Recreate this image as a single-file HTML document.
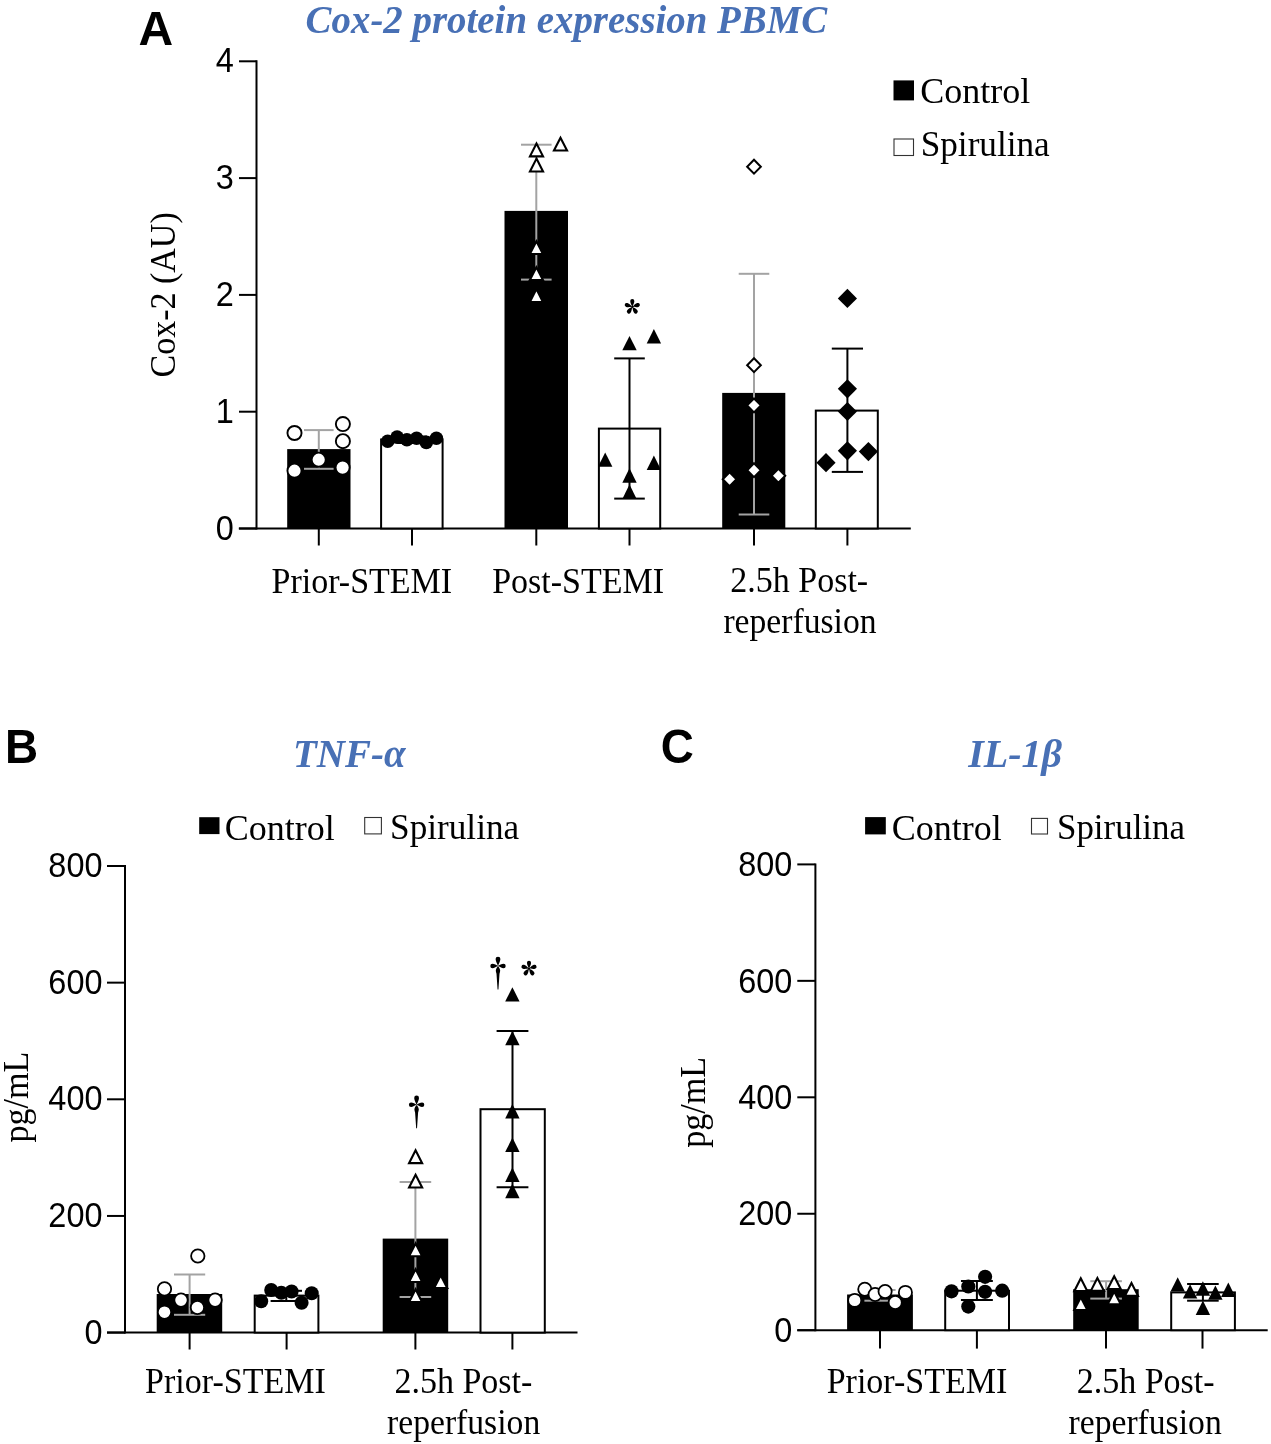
<!DOCTYPE html>
<html><head><meta charset="utf-8"><title>Figure</title>
<style>html,body{margin:0;padding:0;background:#fff;}svg{display:block;will-change:transform;}</style>
</head><body>
<svg width="1271" height="1444" viewBox="0 0 1271 1444">
<rect width="1271" height="1444" fill="#fff"/>
<text x="138.5" y="44.6" font-family='"Liberation Sans", sans-serif' font-size="48" font-weight="bold" font-style="normal" fill="#000" text-anchor="start" >A</text>
<text transform="translate(305.6,33.3) scale(0.997,1)" font-family='"Liberation Serif", serif' font-size="39" font-weight="bold" font-style="italic" fill="#4870b5" text-anchor="start" >Cox-2 protein expression PBMC</text>
<line x1="256.5" y1="60.3" x2="256.5" y2="529.5" stroke="#000" stroke-width="2"/>
<line x1="238.8" y1="528.5" x2="910.8" y2="528.5" stroke="#000" stroke-width="2"/>
<line x1="239" y1="528.5" x2="256.5" y2="528.5" stroke="#000" stroke-width="2"/>
<text transform="translate(233.8,539.5) scale(0.944,1)" font-family='"Liberation Sans", sans-serif' font-size="34.4" font-weight="normal" font-style="normal" fill="#000" text-anchor="end" >0</text>
<line x1="239" y1="411.7" x2="256.5" y2="411.7" stroke="#000" stroke-width="2"/>
<text transform="translate(233.8,422.7) scale(0.944,1)" font-family='"Liberation Sans", sans-serif' font-size="34.4" font-weight="normal" font-style="normal" fill="#000" text-anchor="end" >1</text>
<line x1="239" y1="294.9" x2="256.5" y2="294.9" stroke="#000" stroke-width="2"/>
<text transform="translate(233.8,305.9) scale(0.944,1)" font-family='"Liberation Sans", sans-serif' font-size="34.4" font-weight="normal" font-style="normal" fill="#000" text-anchor="end" >2</text>
<line x1="239" y1="178.10000000000002" x2="256.5" y2="178.10000000000002" stroke="#000" stroke-width="2"/>
<text transform="translate(233.8,189.10000000000002) scale(0.944,1)" font-family='"Liberation Sans", sans-serif' font-size="34.4" font-weight="normal" font-style="normal" fill="#000" text-anchor="end" >3</text>
<line x1="239" y1="61.30000000000001" x2="256.5" y2="61.30000000000001" stroke="#000" stroke-width="2"/>
<text transform="translate(233.8,72.30000000000001) scale(0.944,1)" font-family='"Liberation Sans", sans-serif' font-size="34.4" font-weight="normal" font-style="normal" fill="#000" text-anchor="end" >4</text>
<text transform="translate(174.8,377.5) rotate(-90) scale(0.958,1)" font-family='"Liberation Serif", serif' font-size="35.5">Cox-2 (AU)</text>
<line x1="318.8" y1="528.5" x2="318.8" y2="545.5" stroke="#000" stroke-width="2"/>
<line x1="412" y1="528.5" x2="412" y2="545.5" stroke="#000" stroke-width="2"/>
<line x1="536.3" y1="528.5" x2="536.3" y2="545.5" stroke="#000" stroke-width="2"/>
<line x1="629.5" y1="528.5" x2="629.5" y2="545.5" stroke="#000" stroke-width="2"/>
<line x1="754" y1="528.5" x2="754" y2="545.5" stroke="#000" stroke-width="2"/>
<line x1="847.4" y1="528.5" x2="847.4" y2="545.5" stroke="#000" stroke-width="2"/>
<rect x="287.2" y="449.1" width="63.30" height="79.40" fill="#000"/>
<line x1="318.8" y1="430.1" x2="318.8" y2="468.8" stroke="#a3a3a3" stroke-width="2"/>
<line x1="304.0" y1="430.1" x2="333.6" y2="430.1" stroke="#a3a3a3" stroke-width="2"/>
<line x1="304.0" y1="468.8" x2="333.6" y2="468.8" stroke="#a3a3a3" stroke-width="2"/>
<circle cx="294.5" cy="433" r="7.05" fill="#fff" stroke="#000" stroke-width="1.9"/>
<circle cx="342.9" cy="424.1" r="7.05" fill="#fff" stroke="#000" stroke-width="1.9"/>
<circle cx="342.9" cy="441.2" r="7.05" fill="#fff" stroke="#000" stroke-width="1.9"/>
<circle cx="318.7" cy="459.7" r="7.05" fill="#fff" stroke="#000" stroke-width="1.9"/>
<circle cx="294.5" cy="470.7" r="7.05" fill="#fff" stroke="#000" stroke-width="1.9"/>
<circle cx="342.6" cy="467.6" r="7.05" fill="#fff" stroke="#000" stroke-width="1.9"/>
<rect x="381.1" y="439.5" width="61.50" height="89.00" fill="#fff" stroke="#000" stroke-width="2"/>
<line x1="412" y1="436.5" x2="412" y2="443" stroke="#000" stroke-width="2"/>
<line x1="397.2" y1="436.5" x2="426.8" y2="436.5" stroke="#000" stroke-width="2"/>
<line x1="397.2" y1="443" x2="426.8" y2="443" stroke="#000" stroke-width="2"/>
<circle cx="387.7" cy="441.2" r="6.8" fill="#000"/>
<circle cx="397.1" cy="437.1" r="6.8" fill="#000"/>
<circle cx="406.9" cy="439.8" r="6.8" fill="#000"/>
<circle cx="416.6" cy="438.3" r="6.8" fill="#000"/>
<circle cx="426.3" cy="442.4" r="6.8" fill="#000"/>
<circle cx="436.4" cy="438.3" r="6.8" fill="#000"/>
<rect x="504.5" y="210.9" width="63.50" height="317.60" fill="#000"/>
<line x1="536.3" y1="144.7" x2="536.3" y2="279.6" stroke="#a3a3a3" stroke-width="2"/>
<line x1="521.0" y1="144.7" x2="551.5999999999999" y2="144.7" stroke="#a3a3a3" stroke-width="2"/>
<line x1="521.0" y1="279.6" x2="551.5999999999999" y2="279.6" stroke="#a3a3a3" stroke-width="2"/>
<polygon points="536.50,143.51 529.96,156.35 543.04,156.35" fill="#fff" stroke="#000" stroke-width="2.1" stroke-linejoin="miter" stroke-miterlimit="10"/>
<polygon points="536.50,158.61 529.96,171.45 543.04,171.45" fill="#fff" stroke="#000" stroke-width="2.1" stroke-linejoin="miter" stroke-miterlimit="10"/>
<polygon points="560.50,137.71 553.96,150.55 567.04,150.55" fill="#fff" stroke="#000" stroke-width="2.1" stroke-linejoin="miter" stroke-miterlimit="10"/>
<polygon points="536.40,241.21 529.86,254.05 542.94,254.05" fill="#fff" stroke="#000" stroke-width="2.1" stroke-linejoin="miter" stroke-miterlimit="10"/>
<polygon points="536.40,267.21 529.86,280.05 542.94,280.05" fill="#fff" stroke="#000" stroke-width="2.1" stroke-linejoin="miter" stroke-miterlimit="10"/>
<polygon points="536.40,289.11 529.86,301.95 542.94,301.95" fill="#fff" stroke="#000" stroke-width="2.1" stroke-linejoin="miter" stroke-miterlimit="10"/>
<rect x="598.9" y="428.6" width="61.30" height="99.90" fill="#fff" stroke="#000" stroke-width="2"/>
<line x1="629.5" y1="358.4" x2="629.5" y2="498.6" stroke="#000" stroke-width="2"/>
<line x1="614.2" y1="358.4" x2="644.8" y2="358.4" stroke="#000" stroke-width="2"/>
<line x1="614.2" y1="498.6" x2="644.8" y2="498.6" stroke="#000" stroke-width="2"/>
<polygon points="629.5,335.90000000000003 622.3,350.3 636.7,350.3" fill="#000"/>
<polygon points="653.9,329.0 646.6999999999999,343.4 661.1,343.4" fill="#000"/>
<polygon points="605.2,452.40000000000003 598.0,466.8 612.4000000000001,466.8" fill="#000"/>
<polygon points="653.9,455.6 646.6999999999999,470 661.1,470" fill="#000"/>
<polygon points="629.5,468.3 622.3,482.7 636.7,482.7" fill="#000"/>
<polygon points="629.5,484.5 622.3,498.9 636.7,498.9" fill="#000"/>
<g transform="translate(632.3,306.8)" fill="#000"><path d="M0,0 C-0.45,-1.4 -2.05,-3.50 -2.05,-5.80 A2.05,2.05 0 0 1 2.05,-5.80 C2.05,-3.50 0.45,-1.4 0,0Z" transform="rotate(0)"/><path d="M0,0 C-0.45,-1.4 -2.05,-3.50 -2.05,-5.80 A2.05,2.05 0 0 1 2.05,-5.80 C2.05,-3.50 0.45,-1.4 0,0Z" transform="rotate(72)"/><path d="M0,0 C-0.45,-1.4 -2.05,-3.50 -2.05,-5.80 A2.05,2.05 0 0 1 2.05,-5.80 C2.05,-3.50 0.45,-1.4 0,0Z" transform="rotate(144)"/><path d="M0,0 C-0.45,-1.4 -2.05,-3.50 -2.05,-5.80 A2.05,2.05 0 0 1 2.05,-5.80 C2.05,-3.50 0.45,-1.4 0,0Z" transform="rotate(216)"/><path d="M0,0 C-0.45,-1.4 -2.05,-3.50 -2.05,-5.80 A2.05,2.05 0 0 1 2.05,-5.80 C2.05,-3.50 0.45,-1.4 0,0Z" transform="rotate(288)"/><circle r="1.1"/></g>
<rect x="722.2" y="392.9" width="63.10" height="135.60" fill="#000"/>
<line x1="754" y1="273.8" x2="754" y2="514.5" stroke="#a3a3a3" stroke-width="2"/>
<line x1="738.7" y1="273.8" x2="769.3" y2="273.8" stroke="#a3a3a3" stroke-width="2"/>
<line x1="738.7" y1="514.5" x2="769.3" y2="514.5" stroke="#a3a3a3" stroke-width="2"/>
<polygon points="754,159.72712796023202 760.8483564676293,166.7 754,173.67287203976795 747.1516435323707,166.7" fill="#fff" stroke="#000" stroke-width="2"/>
<polygon points="754,358.227127960232 760.8483564676293,365.2 754,372.172872039768 747.1516435323707,365.2" fill="#fff" stroke="#000" stroke-width="2"/>
<polygon points="754,398.427127960232 760.8483564676293,405.4 754,412.37287203976797 747.1516435323707,405.4" fill="#fff" stroke="#000" stroke-width="2"/>
<polygon points="754,463.227127960232 760.8483564676293,470.2 754,477.172872039768 747.1516435323707,470.2" fill="#fff" stroke="#000" stroke-width="2"/>
<polygon points="729.6,472.327127960232 736.4483564676293,479.3 729.6,486.272872039768 722.7516435323707,479.3" fill="#fff" stroke="#000" stroke-width="2"/>
<polygon points="778.4,468.727127960232 785.2483564676293,475.7 778.4,482.672872039768 771.5516435323707,475.7" fill="#fff" stroke="#000" stroke-width="2"/>
<rect x="815.8" y="410.6" width="62.00" height="117.90" fill="#fff" stroke="#000" stroke-width="2"/>
<line x1="847.4" y1="348.6" x2="847.4" y2="471.9" stroke="#000" stroke-width="2"/>
<line x1="831.8" y1="348.6" x2="863.0" y2="348.6" stroke="#000" stroke-width="2"/>
<line x1="831.8" y1="471.9" x2="863.0" y2="471.9" stroke="#000" stroke-width="2"/>
<polygon points="847.4,288.79999999999995 857.0,298.4 847.4,308.0 837.8,298.4" fill="#000"/>
<polygon points="847.4,379.2 857.0,388.8 847.4,398.40000000000003 837.8,388.8" fill="#000"/>
<polygon points="847.4,401.9 857.0,411.5 847.4,421.1 837.8,411.5" fill="#000"/>
<polygon points="847.4,441.2 857.0,450.8 847.4,460.40000000000003 837.8,450.8" fill="#000"/>
<polygon points="868.4,442.0 878.0,451.6 868.4,461.20000000000005 858.8,451.6" fill="#000"/>
<polygon points="826,453.09999999999997 835.6,462.7 826,472.3 816.4,462.7" fill="#000"/>
<text transform="translate(271.5,592.9) scale(0.958,1)" font-family='"Liberation Serif", serif' font-size="35.5" font-weight="normal" font-style="normal" fill="#000" text-anchor="start" >Prior-STEMI</text>
<text transform="translate(492.2,592.9) scale(0.958,1)" font-family='"Liberation Serif", serif' font-size="35.5" font-weight="normal" font-style="normal" fill="#000" text-anchor="start" >Post-STEMI</text>
<text transform="translate(730.3,591.8) scale(0.958,1)" font-family='"Liberation Serif", serif' font-size="35.5" font-weight="normal" font-style="normal" fill="#000" text-anchor="start" >2.5h Post-</text>
<text transform="translate(723.4,633.2) scale(0.948,1)" font-family='"Liberation Serif", serif' font-size="35.5" font-weight="normal" font-style="normal" fill="#000" text-anchor="start" >reperfusion</text>
<rect x="893.5" y="80.4" width="20.5" height="20" fill="#000"/>
<text x="920.2" y="102.8" font-family='"Liberation Serif", serif' font-size="36" font-weight="normal" font-style="normal" fill="#000" text-anchor="start" >Control</text>
<rect x="894" y="139" width="19.5" height="16.5" fill="#fff" stroke="#333" stroke-width="1.1"/>
<text transform="translate(920.7,156.3) scale(0.978,1)" font-family='"Liberation Serif", serif' font-size="36" font-weight="normal" font-style="normal" fill="#000" text-anchor="start" >Spirulina</text>
<text transform="translate(5.0,763.2) scale(0.955,1)" font-family='"Liberation Sans", sans-serif' font-size="48" font-weight="bold" font-style="normal" fill="#000" text-anchor="start" >B</text>
<text x="293.0" y="766.6" font-family='"Liberation Serif", serif' font-size="39" font-weight="bold" font-style="italic" fill="#4870b5" text-anchor="start" >TNF-α</text>
<rect x="199.2" y="817.2" width="20.3" height="16.9" fill="#000"/>
<text x="224.7" y="839.6" font-family='"Liberation Serif", serif' font-size="36" font-weight="normal" font-style="normal" fill="#000" text-anchor="start" >Control</text>
<rect x="364.7" y="817.5" width="16.7" height="16.4" fill="#fff" stroke="#333" stroke-width="1.1"/>
<text transform="translate(390.1,839.4) scale(0.978,1)" font-family='"Liberation Serif", serif' font-size="36" font-weight="normal" font-style="normal" fill="#000" text-anchor="start" >Spirulina</text>
<line x1="125" y1="865" x2="125" y2="1333.6" stroke="#000" stroke-width="2"/>
<line x1="107" y1="1332.6" x2="577.5" y2="1332.6" stroke="#000" stroke-width="2"/>
<line x1="107" y1="1332.6" x2="125" y2="1332.6" stroke="#000" stroke-width="2"/>
<text transform="translate(102.5,1343.6) scale(0.944,1)" font-family='"Liberation Sans", sans-serif' font-size="34.4" font-weight="normal" font-style="normal" fill="#000" text-anchor="end" >0</text>
<line x1="107" y1="1215.9499999999998" x2="125" y2="1215.9499999999998" stroke="#000" stroke-width="2"/>
<text transform="translate(102.5,1226.9499999999998) scale(0.944,1)" font-family='"Liberation Sans", sans-serif' font-size="34.4" font-weight="normal" font-style="normal" fill="#000" text-anchor="end" >200</text>
<line x1="107" y1="1099.3" x2="125" y2="1099.3" stroke="#000" stroke-width="2"/>
<text transform="translate(102.5,1110.3) scale(0.944,1)" font-family='"Liberation Sans", sans-serif' font-size="34.4" font-weight="normal" font-style="normal" fill="#000" text-anchor="end" >400</text>
<line x1="107" y1="982.6499999999999" x2="125" y2="982.6499999999999" stroke="#000" stroke-width="2"/>
<text transform="translate(102.5,993.6499999999999) scale(0.944,1)" font-family='"Liberation Sans", sans-serif' font-size="34.4" font-weight="normal" font-style="normal" fill="#000" text-anchor="end" >600</text>
<line x1="107" y1="865.9999999999999" x2="125" y2="865.9999999999999" stroke="#000" stroke-width="2"/>
<text transform="translate(102.5,876.9999999999999) scale(0.944,1)" font-family='"Liberation Sans", sans-serif' font-size="34.4" font-weight="normal" font-style="normal" fill="#000" text-anchor="end" >800</text>
<text transform="translate(27.8,1142.5) rotate(-90) scale(0.958,1)" font-family='"Liberation Serif", serif' font-size="35.5">pg/mL</text>
<line x1="189.6" y1="1332.6" x2="189.6" y2="1349.5" stroke="#000" stroke-width="2"/>
<line x1="286.6" y1="1332.6" x2="286.6" y2="1349.5" stroke="#000" stroke-width="2"/>
<line x1="415.4" y1="1332.6" x2="415.4" y2="1349.5" stroke="#000" stroke-width="2"/>
<line x1="512.4" y1="1332.6" x2="512.4" y2="1349.5" stroke="#000" stroke-width="2"/>
<rect x="156.7" y="1294" width="65.50" height="38.60" fill="#000"/>
<line x1="189.6" y1="1274.5" x2="189.6" y2="1314.8" stroke="#a3a3a3" stroke-width="2"/>
<line x1="174.0" y1="1274.5" x2="205.2" y2="1274.5" stroke="#a3a3a3" stroke-width="2"/>
<line x1="174.0" y1="1314.8" x2="205.2" y2="1314.8" stroke="#a3a3a3" stroke-width="2"/>
<circle cx="197.8" cy="1256" r="6.7" fill="#fff" stroke="#000" stroke-width="1.8"/>
<circle cx="164.5" cy="1288.9" r="6.7" fill="#fff" stroke="#000" stroke-width="1.8"/>
<circle cx="181" cy="1300.1" r="6.7" fill="#fff" stroke="#000" stroke-width="1.8"/>
<circle cx="215.1" cy="1300.1" r="6.7" fill="#fff" stroke="#000" stroke-width="1.8"/>
<circle cx="197.4" cy="1307.5" r="6.7" fill="#fff" stroke="#000" stroke-width="1.8"/>
<circle cx="164.5" cy="1312.2" r="6.7" fill="#fff" stroke="#000" stroke-width="1.8"/>
<rect x="254.7" y="1295.6" width="63.70" height="37.00" fill="#fff" stroke="#000" stroke-width="2"/>
<line x1="286.3" y1="1290.8" x2="286.3" y2="1301" stroke="#000" stroke-width="2"/>
<line x1="270.6" y1="1290.8" x2="302.0" y2="1290.8" stroke="#000" stroke-width="2"/>
<line x1="270.6" y1="1301" x2="302.0" y2="1301" stroke="#000" stroke-width="2"/>
<circle cx="261.2" cy="1301.3" r="7.0" fill="#000"/>
<circle cx="271.2" cy="1290" r="7.0" fill="#000"/>
<circle cx="281.3" cy="1292.7" r="7.0" fill="#000"/>
<circle cx="291.6" cy="1291.5" r="7.0" fill="#000"/>
<circle cx="301.6" cy="1302.7" r="7.0" fill="#000"/>
<circle cx="311.7" cy="1293.3" r="7.0" fill="#000"/>
<rect x="382.7" y="1238.6" width="65.50" height="94.00" fill="#000"/>
<line x1="415.4" y1="1181.9" x2="415.4" y2="1297" stroke="#a3a3a3" stroke-width="2"/>
<line x1="399.59999999999997" y1="1181.9" x2="431.2" y2="1181.9" stroke="#a3a3a3" stroke-width="2"/>
<line x1="399.59999999999997" y1="1297" x2="431.2" y2="1297" stroke="#a3a3a3" stroke-width="2"/>
<polygon points="415.60,1150.31 409.06,1163.15 422.14,1163.15" fill="#fff" stroke="#000" stroke-width="2.1" stroke-linejoin="miter" stroke-miterlimit="10"/>
<polygon points="415.60,1174.71 409.06,1187.55 422.14,1187.55" fill="#fff" stroke="#000" stroke-width="2.1" stroke-linejoin="miter" stroke-miterlimit="10"/>
<polygon points="415.60,1243.41 409.06,1256.25 422.14,1256.25" fill="#fff" stroke="#000" stroke-width="2.1" stroke-linejoin="miter" stroke-miterlimit="10"/>
<polygon points="415.60,1269.21 409.06,1282.05 422.14,1282.05" fill="#fff" stroke="#000" stroke-width="2.1" stroke-linejoin="miter" stroke-miterlimit="10"/>
<polygon points="440.70,1275.21 434.16,1288.05 447.24,1288.05" fill="#fff" stroke="#000" stroke-width="2.1" stroke-linejoin="miter" stroke-miterlimit="10"/>
<polygon points="415.60,1289.31 409.06,1302.15 422.14,1302.15" fill="#fff" stroke="#000" stroke-width="2.1" stroke-linejoin="miter" stroke-miterlimit="10"/>
<rect x="480.5" y="1109.2" width="64.30" height="223.40" fill="#fff" stroke="#000" stroke-width="2"/>
<line x1="512.5" y1="1031" x2="512.5" y2="1187.2" stroke="#000" stroke-width="2"/>
<line x1="496.6" y1="1031" x2="528.4" y2="1031" stroke="#000" stroke-width="2"/>
<line x1="496.6" y1="1187.2" x2="528.4" y2="1187.2" stroke="#000" stroke-width="2"/>
<polygon points="512.4,987.2 505.2,1001.6 519.6,1001.6" fill="#000"/>
<polygon points="512.4,1030.8999999999999 505.2,1045.3 519.6,1045.3" fill="#000"/>
<polygon points="512.4,1104.0 505.2,1118.4 519.6,1118.4" fill="#000"/>
<polygon points="512.4,1137.6 505.2,1152 519.6,1152" fill="#000"/>
<polygon points="512.4,1167.5 505.2,1181.9 519.6,1181.9" fill="#000"/>
<polygon points="512.4,1183.8 505.2,1198.2 519.6,1198.2" fill="#000"/>
<path transform="translate(416.6,1104.7)" d="M0,0 C-0.5,-1.4 -2.4,-4.6 -2.4,-6.8 A2.4,2.4 0 0 1 2.4,-6.8 C2.4,-4.6 0.5,-1.4 0,0Z M0,0 C-1.4,-0.5 -3.8,-2.1 -5.5,-2.1 A2.2,2.2 0 0 0 -5.5,2.3 C-3.8,2.3 -1.4,0.5 0,0Z M0,0 C1.4,-0.5 3.8,-2.1 5.5,-2.1 A2.2,2.2 0 0 1 5.5,2.3 C3.8,2.3 1.4,0.5 0,0Z M-0.4,0.6 C-1.2,1.8 -2.2,3.4 -2.2,4.9 C-2.2,6.0 -1.7,6.8 -1.5,7.8 L-0.45,23.4 Q0,24.2 0.45,23.4 L1.5,7.8 C1.7,6.8 2.2,6.0 2.2,4.9 C2.2,3.4 1.2,1.8 0.4,0.6Z" fill="#000"/>
<path transform="translate(498.0,965.9)" d="M0,0 C-0.5,-1.4 -2.4,-4.6 -2.4,-6.8 A2.4,2.4 0 0 1 2.4,-6.8 C2.4,-4.6 0.5,-1.4 0,0Z M0,0 C-1.4,-0.5 -3.8,-2.1 -5.5,-2.1 A2.2,2.2 0 0 0 -5.5,2.3 C-3.8,2.3 -1.4,0.5 0,0Z M0,0 C1.4,-0.5 3.8,-2.1 5.5,-2.1 A2.2,2.2 0 0 1 5.5,2.3 C3.8,2.3 1.4,0.5 0,0Z M-0.4,0.6 C-1.2,1.8 -2.2,3.4 -2.2,4.9 C-2.2,6.0 -1.7,6.8 -1.5,7.8 L-0.45,23.4 Q0,24.2 0.45,23.4 L1.5,7.8 C1.7,6.8 2.2,6.0 2.2,4.9 C2.2,3.4 1.2,1.8 0.4,0.6Z" fill="#000"/>
<g transform="translate(529,968.6)" fill="#000"><path d="M0,0 C-0.45,-1.4 -2.05,-3.50 -2.05,-5.80 A2.05,2.05 0 0 1 2.05,-5.80 C2.05,-3.50 0.45,-1.4 0,0Z" transform="rotate(0)"/><path d="M0,0 C-0.45,-1.4 -2.05,-3.50 -2.05,-5.80 A2.05,2.05 0 0 1 2.05,-5.80 C2.05,-3.50 0.45,-1.4 0,0Z" transform="rotate(72)"/><path d="M0,0 C-0.45,-1.4 -2.05,-3.50 -2.05,-5.80 A2.05,2.05 0 0 1 2.05,-5.80 C2.05,-3.50 0.45,-1.4 0,0Z" transform="rotate(144)"/><path d="M0,0 C-0.45,-1.4 -2.05,-3.50 -2.05,-5.80 A2.05,2.05 0 0 1 2.05,-5.80 C2.05,-3.50 0.45,-1.4 0,0Z" transform="rotate(216)"/><path d="M0,0 C-0.45,-1.4 -2.05,-3.50 -2.05,-5.80 A2.05,2.05 0 0 1 2.05,-5.80 C2.05,-3.50 0.45,-1.4 0,0Z" transform="rotate(288)"/><circle r="1.1"/></g>
<text transform="translate(145.1,1393.4) scale(0.958,1)" font-family='"Liberation Serif", serif' font-size="35.5" font-weight="normal" font-style="normal" fill="#000" text-anchor="start" >Prior-STEMI</text>
<text transform="translate(394.4,1393.4) scale(0.958,1)" font-family='"Liberation Serif", serif' font-size="35.5" font-weight="normal" font-style="normal" fill="#000" text-anchor="start" >2.5h Post-</text>
<text transform="translate(387,1434.4) scale(0.948,1)" font-family='"Liberation Serif", serif' font-size="35.5" font-weight="normal" font-style="normal" fill="#000" text-anchor="start" >reperfusion</text>
<text transform="translate(660.8,763.4) scale(0.955,1)" font-family='"Liberation Sans", sans-serif' font-size="48" font-weight="bold" font-style="normal" fill="#000" text-anchor="start" >C</text>
<text x="968.3" y="766.6" font-family='"Liberation Serif", serif' font-size="40" font-weight="bold" font-style="italic" fill="#4870b5" text-anchor="start" >IL-1β</text>
<rect x="865.1" y="817.1" width="20.7" height="17.3" fill="#000"/>
<text x="891.7" y="839.6" font-family='"Liberation Serif", serif' font-size="36" font-weight="normal" font-style="normal" fill="#000" text-anchor="start" >Control</text>
<rect x="1031.5" y="818.4" width="16" height="15.6" fill="#fff" stroke="#333" stroke-width="1.1"/>
<text transform="translate(1057,839.4) scale(0.97,1)" font-family='"Liberation Serif", serif' font-size="36" font-weight="normal" font-style="normal" fill="#000" text-anchor="start" >Spirulina</text>
<line x1="815.4" y1="863.4" x2="815.4" y2="1331.2" stroke="#000" stroke-width="2"/>
<line x1="797.3" y1="1330.2" x2="1267.7" y2="1330.2" stroke="#000" stroke-width="2"/>
<line x1="797.3" y1="1330.2" x2="815.4" y2="1330.2" stroke="#000" stroke-width="2"/>
<text transform="translate(792.4,1341.9) scale(0.944,1)" font-family='"Liberation Sans", sans-serif' font-size="34.4" font-weight="normal" font-style="normal" fill="#000" text-anchor="end" >0</text>
<line x1="797.3" y1="1213.75" x2="815.4" y2="1213.75" stroke="#000" stroke-width="2"/>
<text transform="translate(792.4,1225.45) scale(0.944,1)" font-family='"Liberation Sans", sans-serif' font-size="34.4" font-weight="normal" font-style="normal" fill="#000" text-anchor="end" >200</text>
<line x1="797.3" y1="1097.3" x2="815.4" y2="1097.3" stroke="#000" stroke-width="2"/>
<text transform="translate(792.4,1109.0) scale(0.944,1)" font-family='"Liberation Sans", sans-serif' font-size="34.4" font-weight="normal" font-style="normal" fill="#000" text-anchor="end" >400</text>
<line x1="797.3" y1="980.85" x2="815.4" y2="980.85" stroke="#000" stroke-width="2"/>
<text transform="translate(792.4,992.5500000000001) scale(0.944,1)" font-family='"Liberation Sans", sans-serif' font-size="34.4" font-weight="normal" font-style="normal" fill="#000" text-anchor="end" >600</text>
<line x1="797.3" y1="864.4000000000001" x2="815.4" y2="864.4000000000001" stroke="#000" stroke-width="2"/>
<text transform="translate(792.4,876.1000000000001) scale(0.944,1)" font-family='"Liberation Sans", sans-serif' font-size="34.4" font-weight="normal" font-style="normal" fill="#000" text-anchor="end" >800</text>
<text transform="translate(704.9,1147.7) rotate(-90) scale(0.958,1)" font-family='"Liberation Serif", serif' font-size="35.5">pg/mL</text>
<line x1="880" y1="1330.2" x2="880" y2="1348.6" stroke="#000" stroke-width="2"/>
<line x1="976.9" y1="1330.2" x2="976.9" y2="1348.6" stroke="#000" stroke-width="2"/>
<line x1="1106" y1="1330.2" x2="1106" y2="1348.6" stroke="#000" stroke-width="2"/>
<line x1="1202.5" y1="1330.2" x2="1202.5" y2="1348.6" stroke="#000" stroke-width="2"/>
<rect x="847.1" y="1294.5" width="65.80" height="35.70" fill="#000"/>
<line x1="880" y1="1290" x2="880" y2="1300.7" stroke="#a3a3a3" stroke-width="2"/>
<line x1="864.4" y1="1290" x2="895.6" y2="1290" stroke="#a3a3a3" stroke-width="2"/>
<line x1="864.4" y1="1300.7" x2="895.6" y2="1300.7" stroke="#a3a3a3" stroke-width="2"/>
<circle cx="854.7" cy="1300.4" r="6.6" fill="#fff" stroke="#000" stroke-width="1.8"/>
<circle cx="864.8" cy="1289.2" r="6.6" fill="#fff" stroke="#000" stroke-width="1.8"/>
<circle cx="875.1" cy="1294.5" r="6.6" fill="#fff" stroke="#000" stroke-width="1.8"/>
<circle cx="885.1" cy="1291.5" r="6.6" fill="#fff" stroke="#000" stroke-width="1.8"/>
<circle cx="895.2" cy="1302.5" r="6.6" fill="#fff" stroke="#000" stroke-width="1.8"/>
<circle cx="905.4" cy="1292.4" r="6.6" fill="#fff" stroke="#000" stroke-width="1.8"/>
<rect x="945.2" y="1290.7" width="63.80" height="39.50" fill="#fff" stroke="#000" stroke-width="2"/>
<line x1="976.9" y1="1280.9" x2="976.9" y2="1300.1" stroke="#000" stroke-width="2"/>
<line x1="960.9499999999999" y1="1280.9" x2="992.85" y2="1280.9" stroke="#000" stroke-width="2"/>
<line x1="960.9499999999999" y1="1300.1" x2="992.85" y2="1300.1" stroke="#000" stroke-width="2"/>
<circle cx="951.5" cy="1291.3" r="7.1" fill="#000"/>
<circle cx="968.3" cy="1286.5" r="7.1" fill="#000"/>
<circle cx="985.1" cy="1276.8" r="7.1" fill="#000"/>
<circle cx="985.1" cy="1291.8" r="7.1" fill="#000"/>
<circle cx="1002.2" cy="1290.7" r="7.1" fill="#000"/>
<circle cx="968.3" cy="1306.6" r="7.1" fill="#000"/>
<rect x="1073.2" y="1289.2" width="65.50" height="41.00" fill="#000"/>
<line x1="1106.1" y1="1281.2" x2="1106.1" y2="1298.6" stroke="#a3a3a3" stroke-width="2"/>
<line x1="1090.3" y1="1281.2" x2="1121.8999999999999" y2="1281.2" stroke="#a3a3a3" stroke-width="2"/>
<line x1="1090.3" y1="1298.6" x2="1121.8999999999999" y2="1298.6" stroke="#a3a3a3" stroke-width="2"/>
<polygon points="1080.80,1278.31 1074.26,1291.15 1087.34,1291.15" fill="#fff" stroke="#000" stroke-width="2.1" stroke-linejoin="miter" stroke-miterlimit="10"/>
<polygon points="1097.40,1278.01 1090.86,1290.85 1103.94,1290.85" fill="#fff" stroke="#000" stroke-width="2.1" stroke-linejoin="miter" stroke-miterlimit="10"/>
<polygon points="1114.20,1276.21 1107.66,1289.05 1120.74,1289.05" fill="#fff" stroke="#000" stroke-width="2.1" stroke-linejoin="miter" stroke-miterlimit="10"/>
<polygon points="1131.50,1283.01 1124.96,1295.85 1138.04,1295.85" fill="#fff" stroke="#000" stroke-width="2.1" stroke-linejoin="miter" stroke-miterlimit="10"/>
<polygon points="1114.20,1291.51 1107.66,1304.35 1120.74,1304.35" fill="#fff" stroke="#000" stroke-width="2.1" stroke-linejoin="miter" stroke-miterlimit="10"/>
<polygon points="1080.80,1297.21 1074.26,1310.05 1087.34,1310.05" fill="#fff" stroke="#000" stroke-width="2.1" stroke-linejoin="miter" stroke-miterlimit="10"/>
<rect x="1171.2" y="1292.4" width="63.70" height="37.80" fill="#fff" stroke="#000" stroke-width="2"/>
<line x1="1202.9" y1="1284" x2="1202.9" y2="1300.7" stroke="#000" stroke-width="2"/>
<line x1="1187.1000000000001" y1="1284" x2="1218.7" y2="1284" stroke="#000" stroke-width="2"/>
<line x1="1187.1000000000001" y1="1300.7" x2="1218.7" y2="1300.7" stroke="#000" stroke-width="2"/>
<polygon points="1177.7,1277.1999999999998 1170.5,1291.6 1184.9,1291.6" fill="#000"/>
<polygon points="1202.9,1281.3 1195.7,1295.7 1210.1000000000001,1295.7" fill="#000"/>
<polygon points="1228.3,1282.5 1221.1,1296.9 1235.5,1296.9" fill="#000"/>
<polygon points="1190.1,1284.1999999999998 1182.8999999999999,1298.6 1197.3,1298.6" fill="#000"/>
<polygon points="1215.4,1285.3999999999999 1208.2,1299.8 1222.6000000000001,1299.8" fill="#000"/>
<polygon points="1202.9,1300.5 1195.7,1314.9 1210.1000000000001,1314.9" fill="#000"/>
<text transform="translate(826.7,1393.4) scale(0.958,1)" font-family='"Liberation Serif", serif' font-size="35.5" font-weight="normal" font-style="normal" fill="#000" text-anchor="start" >Prior-STEMI</text>
<text transform="translate(1076.7,1393.4) scale(0.958,1)" font-family='"Liberation Serif", serif' font-size="35.5" font-weight="normal" font-style="normal" fill="#000" text-anchor="start" >2.5h Post-</text>
<text transform="translate(1068.5,1434.4) scale(0.948,1)" font-family='"Liberation Serif", serif' font-size="35.5" font-weight="normal" font-style="normal" fill="#000" text-anchor="start" >reperfusion</text>
</svg>
</body></html>
